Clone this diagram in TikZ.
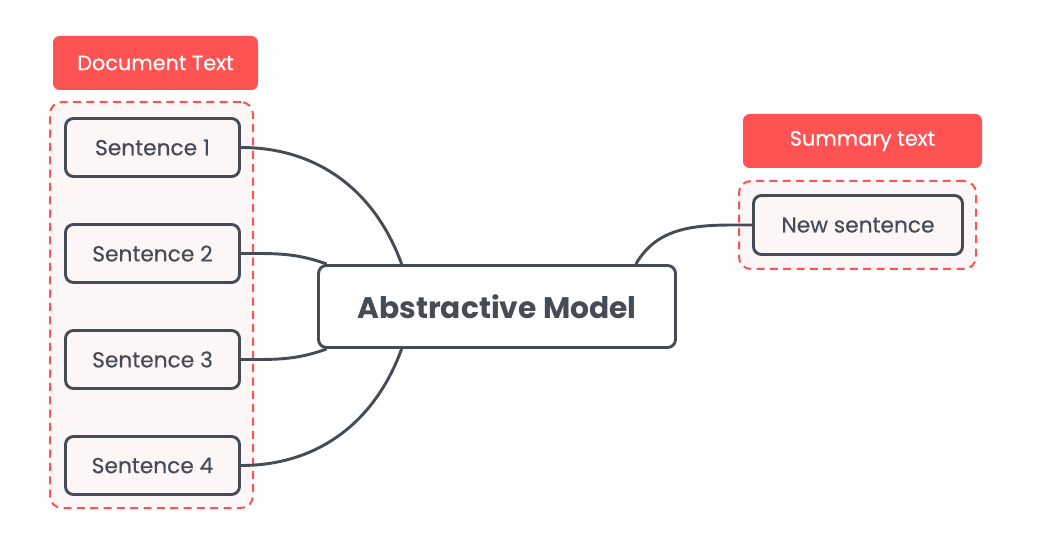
\documentclass[tikz,border=0pt]{standalone}
\usepackage{fontspec}
\setmainfont{Poppins}
\newfontfamily\medfont{Poppins}[FakeBold=0.5]
\usepackage{tikz}
\usetikzlibrary{positioning}
\definecolor{tagred}{HTML}{FF5252}
\definecolor{inkgray}{HTML}{464C55}
\definecolor{paper}{HTML}{FDF6F6}

\begin{document}
\begin{tikzpicture}[x=0.75pt, y=-0.75pt,
  sent/.style={draw=inkgray, line width=2.2pt, rounded corners=6pt, fill=paper,
    minimum width=130.5pt, minimum height=43.5pt, text=inkgray, font=\medfont\fontsize{16.3}{19}\selectfont},
  tag/.style={fill=tagred, rounded corners=5pt, text=white, minimum height=40.5pt,
    font=\medfont\fontsize{15.6}{18}\selectfont},
  group/.style={draw=tagred, line width=1.5pt, dash pattern=on 6pt off 4pt,
    rounded corners=9pt, fill=paper},
  link/.style={draw=inkgray, line width=2.2pt}]

\useasboundingbox (0,0) rectangle (1042,538);

% Document side
\node[tag, minimum width=153.75pt] (doctag) at (155.5,63) {Document Text};
\node[group, minimum width=152.25pt, minimum height=304.5pt] (docgroup) at (151.5,305) {};
\node[sent] (s1) at (152.5,147.5) {Sentence 1};
\node[sent, below=33.8pt of s1] (s2) {Sentence 2};
\node[sent, below=33.8pt of s2] (s3) {Sentence 3};
\node[sent, below=33.8pt of s3] (s4) {Sentence 4};

% Model
\node[draw=inkgray, line width=2.2pt, rounded corners=6pt, fill=white,
  minimum width=267.75pt, minimum height=61.5pt, text=inkgray,
  font=\fontsize{22.3}{26}\selectfont\bfseries] (model) at (497,306.5) {Abstractive Model};

% Summary side
\node[tag, minimum width=179.25pt] (sumtag) at (862.5,141) {Summary text};
\node[group, minimum width=177.75pt, minimum height=66pt] (sumgroup) at (857.5,225) {};
\node[sent, minimum width=156.75pt, minimum height=44.25pt] (news) at (858,225) {New sentence};

% Links
\draw[link] (s1.east) to[out=0, in=110] (model.156);
\draw[link] (s2.east) to[out=0, in=160] (model.166);
\draw[link] (s3.east) to[out=0, in=200] (model.194);
\draw[link] (s4.east) to[out=0, in=250] (model.204);
\draw[link] (model.17) to[out=60, in=180] (news.west);

\end{tikzpicture}
\end{document}
